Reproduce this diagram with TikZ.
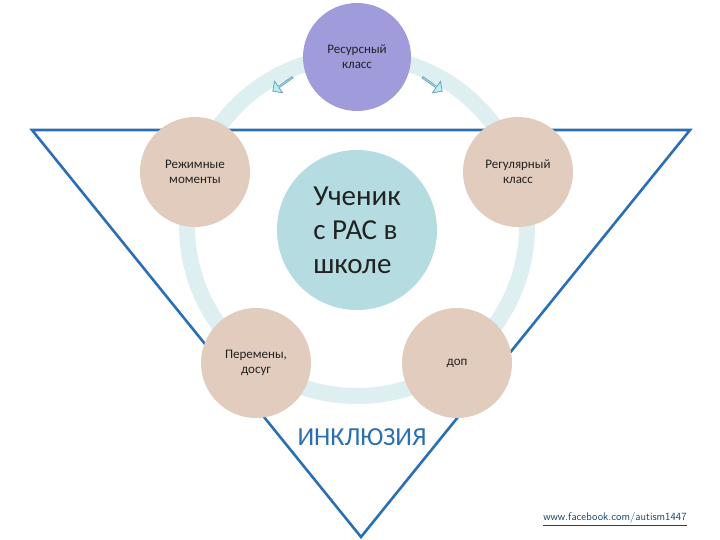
\documentclass[tikz,border=0pt]{standalone}
\usepackage{fontspec}
\setmainfont{Carlito}
\usetikzlibrary{shapes.arrows}
\definecolor{ring}{HTML}{DDEFF1}
\definecolor{tri}{HTML}{2A6FB3}
\definecolor{lav}{HTML}{A09CDC}
\definecolor{cen}{HTML}{B5DDE1}
\definecolor{sml}{HTML}{E2CCBE}
\definecolor{txt}{HTML}{222222}
\begin{document}
\begin{tikzpicture}[x=1pt,y=-1pt,
  small/.style={circle,minimum size=110pt,inner sep=0pt,fill=sml,align=center,font=\fontsize{13}{15}\selectfont,text=txt},
  arr/.style={single arrow,fill=ring!80!cyan,draw=cyan!40!gray,line width=0.8pt,minimum height=24pt,minimum width=14pt,single arrow head extend=3pt,inner sep=0pt}]
\useasboundingbox (0,0) rectangle (720,540);
\coordinate (c) at (357,226);
\draw[ring,line width=16pt] (c) circle (170);
\coordinate (t1) at (32,130);
\coordinate (t2) at (690,130);
\coordinate (t3) at (361,537);
\draw[tri,line width=2.6pt,line join=miter] (t1) -- (t2) -- (t3) -- cycle;
\node[arr,rotate=-145] (a1) at (283,84) {};
\node[arr,rotate=-35] (a2) at (432,84) {};
\node[circle,minimum size=108pt,inner sep=0pt,fill=lav,align=center,font=\fontsize{13}{15}\selectfont,text=txt] (top) at (357,57) {Ресурсный\\класс};
\node[small] (rm) at (195,172) {Режимные\\моменты};
\node[small] (rk) at (518,172) {Регулярный\\класс};
\node[small] (pd) at (256,363) {Перемены,\\досуг};
\node[small] (dop) at (457,363) {доп};
\node[circle,minimum size=160pt,inner sep=0pt,fill=cen,align=left,font=\fontsize{29}{34}\selectfont,text=txt] (mid) at (357,230) {Ученик\\с РАС в\\школе};
\node[font=\fontsize{26}{30}\selectfont,text=tri,fill=white,inner sep=1pt] (lab) at (362,437) {ИНКЛЮЗИЯ};
\node[font=\fontsize{11}{13}\selectfont\sffamily,text=tri!60!black] (url) at (615,519) {\underline{www.facebook.com/autism1447}};
\end{tikzpicture}
\end{document}
